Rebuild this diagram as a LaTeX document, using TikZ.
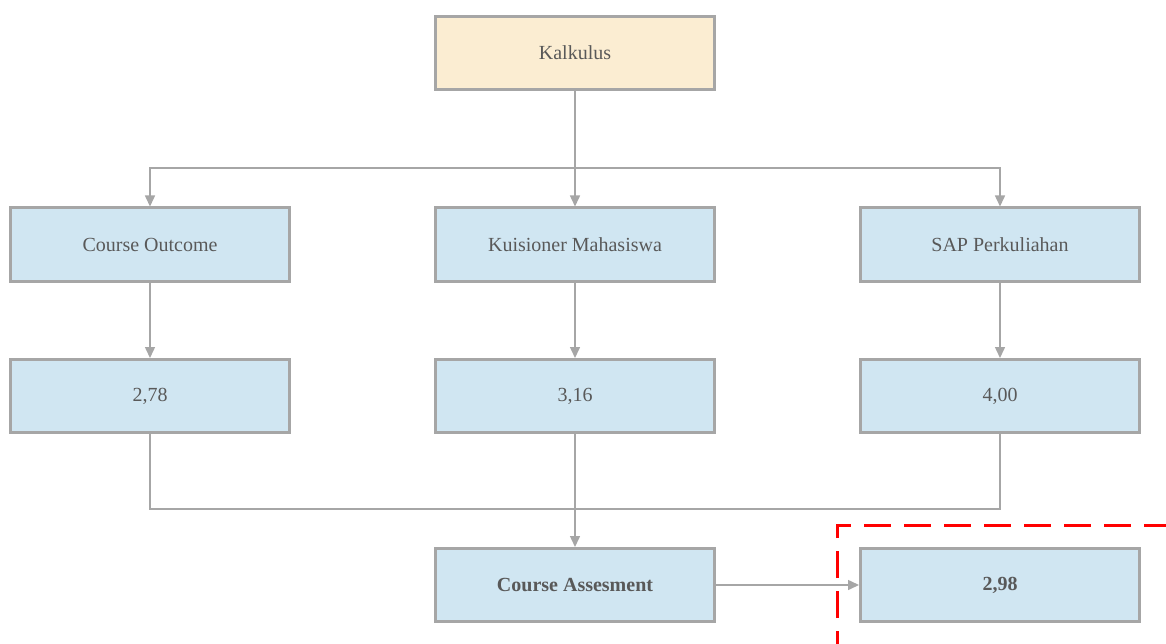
\documentclass[tikz,border=0pt]{standalone}
\usepackage{fontspec}
\setmainfont{Liberation Serif}
\usetikzlibrary{arrows.meta}
\definecolor{boxline}{RGB}{166,166,166}
\definecolor{bluefill}{RGB}{208,230,242}
\definecolor{creamfill}{RGB}{251,237,210}
\definecolor{txt}{RGB}{89,89,89}
\tikzset{
  box/.style={draw=boxline, line width=3pt, rectangle, minimum width=279pt,
    minimum height=73pt, inner sep=0pt, text=txt,
    font=\fontsize{20}{24}\selectfont},
  bluebox/.style={box, fill=bluefill},
  creambox/.style={box, fill=creamfill},
  conn/.style={draw=boxline, line width=1.5pt},
  arr/.style={conn, -{Triangle[length=11pt,width=10pt]}},
  focus/.style={draw=red, line width=3pt, dash pattern=on 27pt off 13pt, dash phase=38pt}
}
\begin{document}
\begin{tikzpicture}[x=1pt,y=-1pt]
\useasboundingbox (0,0) rectangle (1166,644);

% course node and the three assessment sources
\node[creambox] (top) at (575,53) {Kalkulus};
\node[bluebox] (co)  at (150,244.5) {Course Outcome};
\node[bluebox] (km)  at (575,244.5) {Kuisioner Mahasiswa};
\node[bluebox] (sap) at (1000,244.5) {SAP Perkuliahan};

% scores
\node[bluebox] (v1) at (150,396) {2,78};
\node[bluebox] (v2) at (575,396) {3,16};
\node[bluebox] (v3) at (1000,396) {4,00};

% result
\node[bluebox, font=\fontsize{20}{24}\selectfont\bfseries] (ca) at (575,585) {Course Assesment};
\node[bluebox, font=\fontsize{20}{24}\selectfont\bfseries] (res) at (1000,585) {2,98};

% junction points
\coordinate (j1) at (575,168);
\coordinate (j2) at (575,509);

% connectors
\draw[conn] (top.south) -- (j1);
\draw[arr] (j1) -| (co.north);
\draw[arr] (j1) -| (sap.north);
\draw[arr] (top.south) -- (km.north);

\draw[arr] (co.south) -- (v1.north);
\draw[arr] (km.south) -- (v2.north);
\draw[arr] (sap.south) -- (v3.north);

\draw[conn] (v1.south) |- (j2);
\draw[conn] (v3.south) |- (j2);
\draw[arr] (v2.south) -- (ca.north);

\draw[arr] (ca.east) -- (res.west);

% highlight frame around the result
\begin{scope}
  \clip (0,0) rectangle (1166,644);
  \draw[focus] (837,700) -- (837,525) -- (1220,525);
\end{scope}
\end{tikzpicture}
\end{document}
